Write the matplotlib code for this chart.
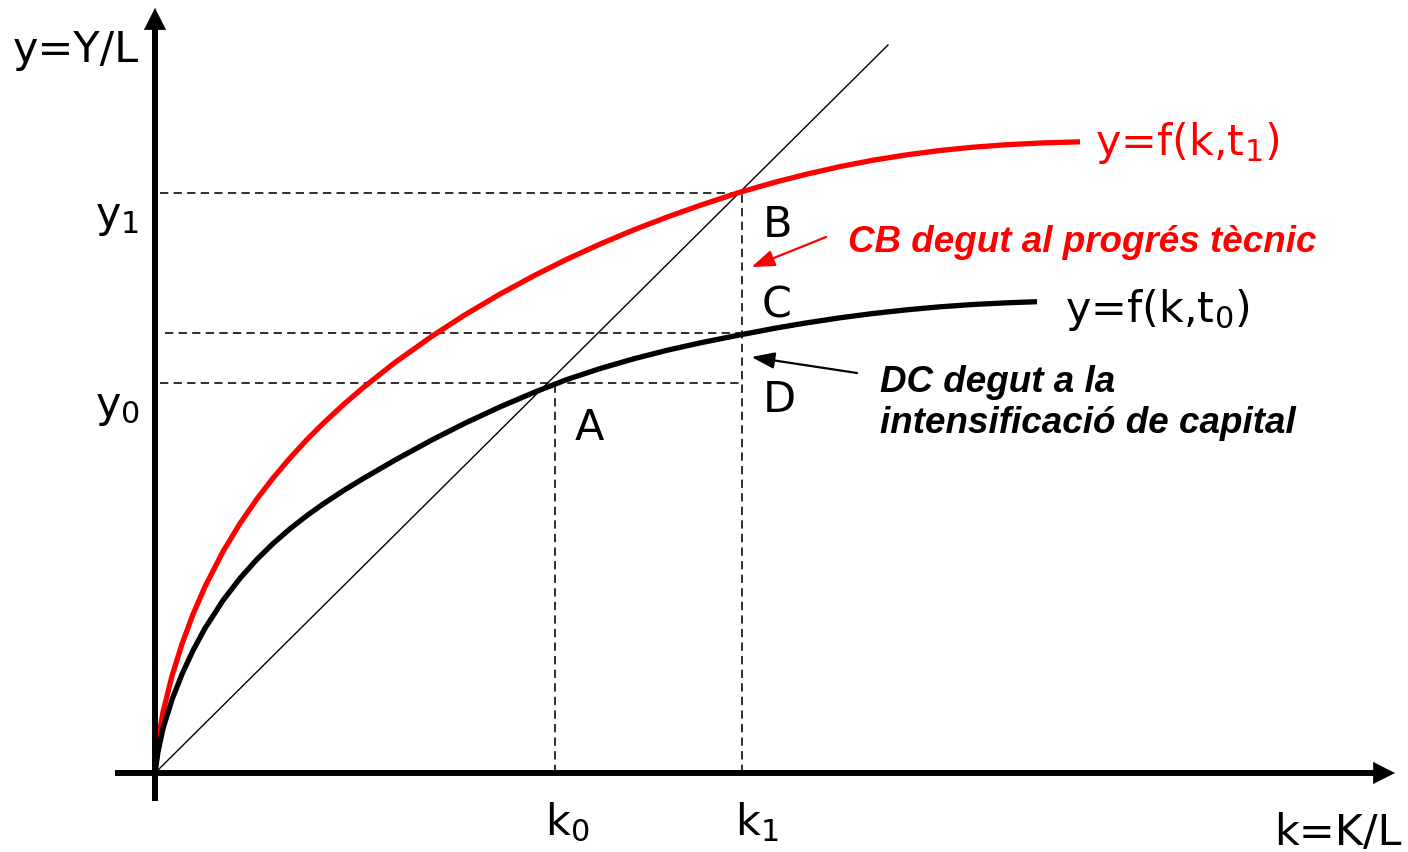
import matplotlib
matplotlib.use("Agg")
import matplotlib.pyplot as plt

# ---- data (k = K/L, y = Y/L, arbitrary units) ----
k_t0 = [0, 0.03, 0.08, 0.17, 0.27, 0.38, 0.50, 0.68, 0.85, 1.02, 1.18, 1.35, 1.52,
        1.68, 1.88, 2.08, 2.40, 2.77, 3.10, 3.45, 3.80, 4.12, 4.45, 4.78, 5.12,
        5.45, 5.85, 6.20, 6.52, 6.85, 7.18, 7.52, 7.85, 8.18, 8.52, 8.82]
y_t0 = [0, 0.210, 0.445, 0.733, 0.988, 1.225, 1.447, 1.726, 1.947, 2.137, 2.294,
        2.442, 2.575, 2.689, 2.821, 2.943, 3.129, 3.331, 3.498, 3.661, 3.810,
        3.935, 4.044, 4.140, 4.227, 4.301, 4.381, 4.448, 4.502, 4.552, 4.595,
        4.632, 4.662, 4.685, 4.702, 4.713]

k_t1 = [0, 0.03, 0.08, 0.17, 0.27, 0.38, 0.50, 0.68, 0.85, 1.02, 1.18, 1.35, 1.52,
        1.68, 1.88, 2.08, 2.40, 2.77, 3.10, 3.45, 3.80, 4.12, 4.45, 4.78, 5.12,
        5.45, 5.85, 6.20, 6.52, 6.85, 7.18, 7.52, 7.85, 8.18, 8.52, 8.88, 9.25]
y_t1 = [0, 0.310, 0.610, 0.970, 1.290, 1.587, 1.863, 2.214, 2.495, 2.741, 2.949,
        3.150, 3.334, 3.494, 3.680, 3.852, 4.105, 4.368, 4.582, 4.789, 4.978,
        5.138, 5.289, 5.428, 5.559, 5.676, 5.808, 5.908, 5.989, 6.064, 6.128,
        6.182, 6.225, 6.258, 6.283, 6.301, 6.312]

diag_k = [0, 7.33]
diag_y = [0, 7.28]

k0, k1 = 4.00, 5.87
y0, yC, y1 = 3.90, 4.40, 5.80

point_labels = ["A", "B", "C", "D"]
curve_labels = ["y=f(k,t$_1$)", "y=f(k,t$_0$)"]
note_red = "CB degut al progrés tècnic"
note_black = ["DC degut a la", "intensificació de capital"]

# ---- figure ----
fig = plt.figure(figsize=(14.08, 8.52), dpi=100)
ax = fig.add_axes([0, 0, 1, 1])
ax.set_xlim(-1.55, 12.53)
ax.set_ylim(-0.79, 7.73)
ax.axis("off")

FAM = ["DejaVu Sans Condensed", "DejaVu Sans"]
FS = 31
plt.rcParams["mathtext.fontset"] = "dejavusans"

dash = (0, (5.2, 3.3))
dl = dict(color="black", lw=1.15, linestyle=dash)
ax.plot([0.05, k1], [y1, y1], **dl)
ax.plot([0.10, k1], [yC, yC], **dl)
ax.plot([0.05, k1], [y0, y0], **dl)
ax.plot([k0, k0], [0, y0], **dl)
ax.plot([k1, k1], [0, y1], **dl)

# diagonal
ax.plot(diag_k, diag_y, color="black", lw=1.0)

# curves
ax.plot(k_t1, y_t1, color="#ff0000", lw=3.8, solid_capstyle="butt", solid_joinstyle="round")
ax.plot(k_t0, y_t0, color="black", lw=3.8, solid_capstyle="butt", solid_joinstyle="round")

# axes
ax.plot([-0.40, 12.25], [0, 0], color="black", lw=4.3, solid_capstyle="butt")
ax.plot([0, 0], [-0.28, 7.50], color="black", lw=4.3, solid_capstyle="butt")
hp = dict(arrowstyle="-|>,head_length=0.75,head_width=0.38", mutation_scale=20,
          lw=0.5, fc="black", ec="black", shrinkA=0, shrinkB=0)
ax.annotate("", xy=(12.40, 0), xytext=(12.10, 0), arrowprops=hp)
ax.annotate("", xy=(0, 7.65), xytext=(0, 7.35), arrowprops=hp)

# axis labels
ax.text(-1.42, 7.11, "y=Y/L", family=FAM, fontsize=FS, ha="left", va="baseline")
ax.text(11.19, -0.72, "k=K/L", family=FAM, fontsize=FS, ha="left", va="baseline")
ax.text(-0.60, 5.46, "y$_1$", family=FAM, fontsize=FS, ha="left", va="baseline")
ax.text(-0.60, 3.56, "y$_0$", family=FAM, fontsize=FS, ha="left", va="baseline")
ax.text(3.90, -0.62, "k$_0$", family=FAM, fontsize=FS, ha="left", va="baseline")
ax.text(5.80, -0.62, "k$_1$", family=FAM, fontsize=FS, ha="left", va="baseline")

# point labels
for lab, (x, y) in zip(point_labels, [(4.20, 3.33), (6.08, 5.36), (6.07, 4.56), (6.08, 3.61)]):
    ax.text(x, y, lab, family=FAM, fontsize=FS, ha="left", va="baseline")

# curve labels
ax.text(9.40, 6.18, curve_labels[0], family=FAM, fontsize=FS, color="#ff0000",
        ha="left", va="baseline")
ax.text(9.10, 4.51, curve_labels[1], family=FAM, fontsize=FS, color="black",
        ha="left", va="baseline")

# notes
nf = dict(family="Liberation Sans", fontsize=26.5, fontweight="bold", style="italic",
          ha="left", va="baseline")
ax.text(6.93, 5.21, note_red, color="#ff0000", **nf)
ax.text(7.25, 3.81, note_black[0], color="black", **nf)
ax.text(7.25, 3.40, note_black[1], color="black", **nf)

ap = dict(arrowstyle="-|>,head_length=0.7,head_width=0.25", mutation_scale=20,
          lw=1.6, shrinkA=0, shrinkB=0)
ax.annotate("", xy=(5.965, 5.06), xytext=(6.71, 5.36),
            arrowprops=dict(color="#ff0000", **ap))
ax.annotate("", xy=(5.965, 4.16), xytext=(7.02, 4.00),
            arrowprops=dict(color="black", **ap))

fig.savefig("out.png", dpi=100)
